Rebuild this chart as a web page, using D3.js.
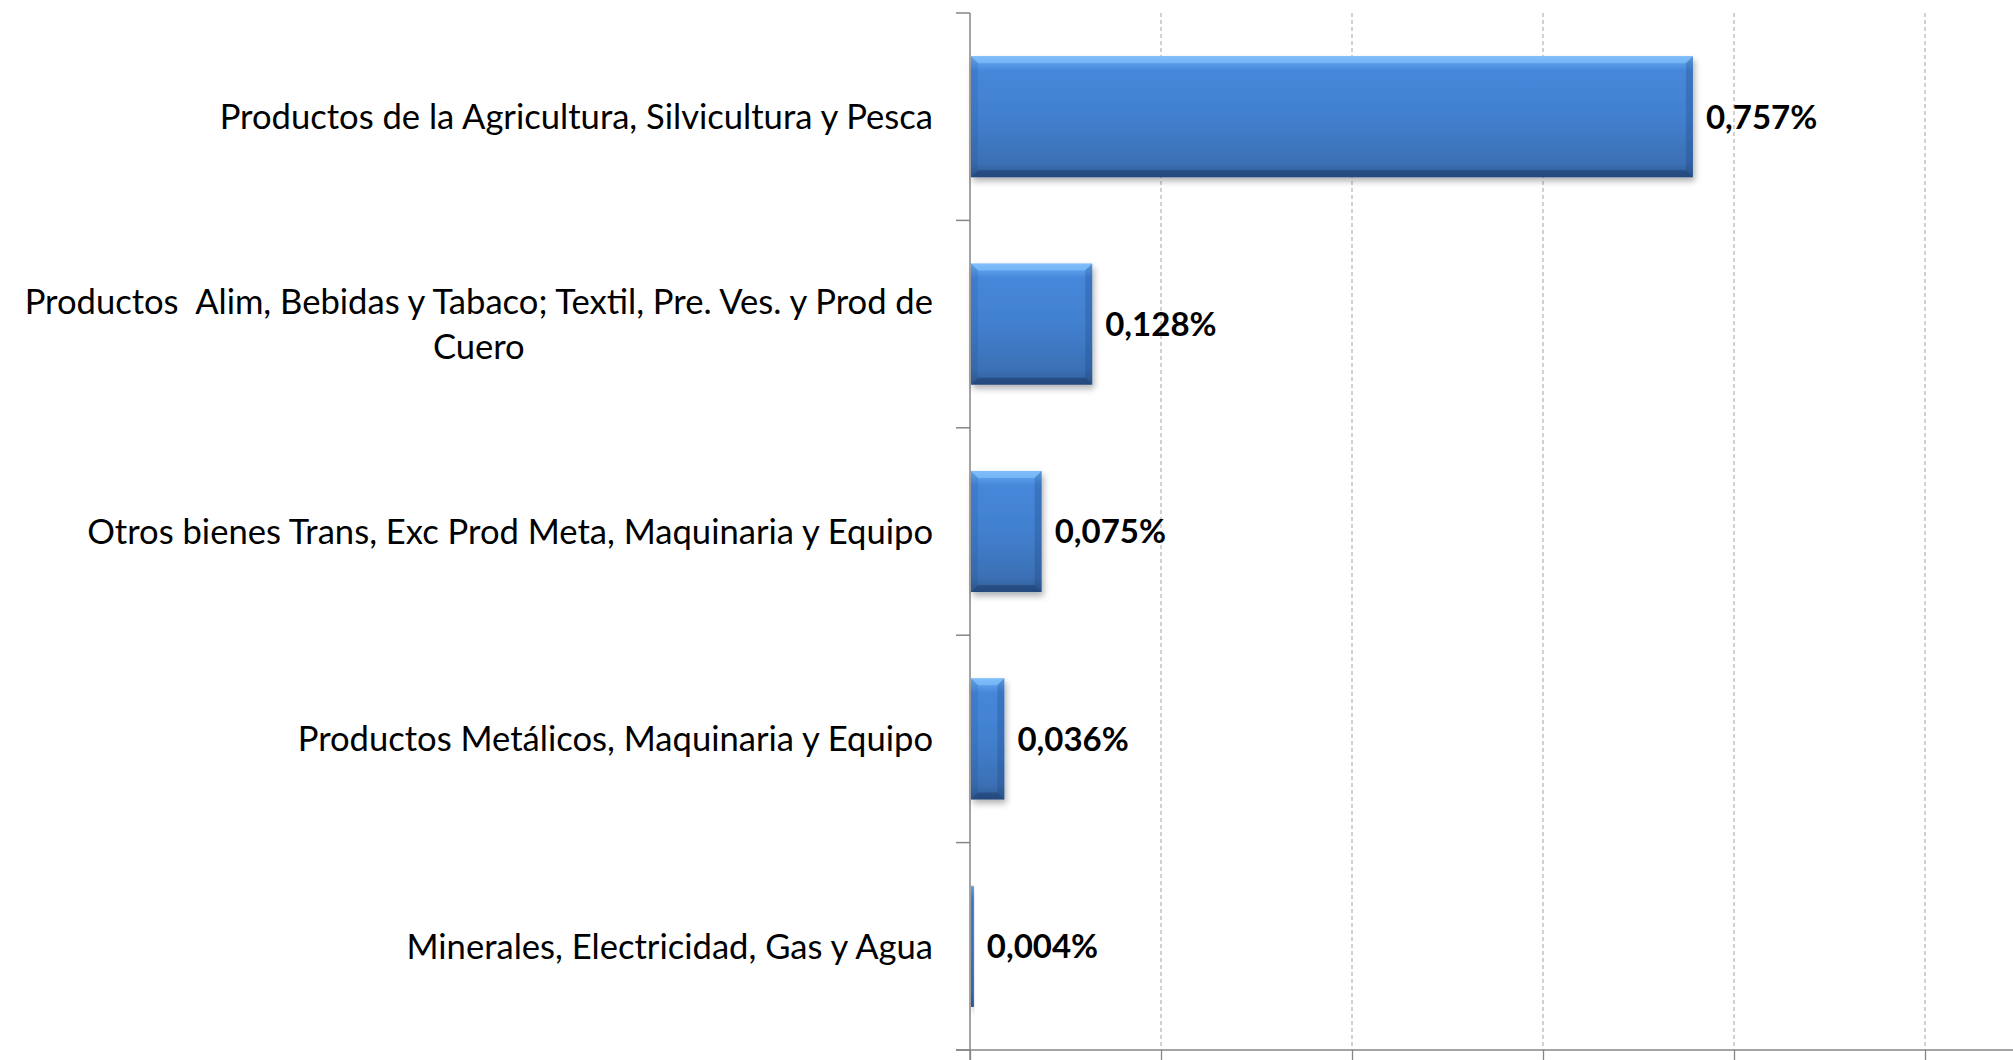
<!DOCTYPE html>
<html>
<head>
<meta charset="utf-8">
<script src="https://cdn.jsdelivr.net/npm/d3@7"></script>
<style>
  body { margin: 0; background: #ffffff; }
  svg { display: block; }
</style>
</head>
<body>
<div id="chart"></div>
<script>
// categories (top to bottom), each entry is the list of lines of the label
var categories = [
  ["Productos de la Agricultura, Silvicultura y Pesca"],
  ["Productos  Alim, Bebidas y Tabaco; Textil, Pre. Ves. y Prod de", "Cuero"],
  ["Otros bienes Trans, Exc Prod Meta, Maquinaria y Equipo"],
  ["Productos Metálicos, Maquinaria y Equipo"],
  ["Minerales, Electricidad, Gas y Agua"]
];
var values = [0.757, 0.128, 0.075, 0.036, 0.004];
var valueLabels = ["0,757%", "0,128%", "0,075%", "0,036%", "0,004%"];
var xTicks = [0, 0.2, 0.4, 0.6, 0.8, 1.0, 1.2];

var width = 2013, height = 1060;
var margin = {top: 13, left: 970, bottom: 10};
var unit = 955; // pixels per 1%
var labelRight = 933;

var svg = d3.select("#chart")
  .append("svg")
    .attr("width", width)
    .attr("height", height);

var defs = svg.append("defs");

// vertical gradient of the bars
var grad = defs.append("linearGradient")
  .attr("id", "barGrad")
  .attr("x1", 0).attr("y1", 0).attr("x2", 0).attr("y2", 1);
[["0%", "#70b2f4"], ["6%", "#589ce8"], ["12%", "#4687da"], ["50%", "#4280cf"],
 ["88%", "#3b70b5"], ["100%", "#2f5b94"]].forEach(function(s) {
  grad.append("stop").attr("offset", s[0]).attr("stop-color", s[1]);
});

var shadow = defs.append("filter")
  .attr("id", "shadow")
  .attr("x", "-20%").attr("y", "-20%").attr("width", "140%").attr("height", "150%");
shadow.append("feDropShadow")
  .attr("dx", 2).attr("dy", 4)
  .attr("stdDeviation", 3)
  .attr("flood-color", "#000")
  .attr("flood-opacity", 0.3);

// scales
var x = d3.scaleLinear()
  .domain([0, 1.2])
  .range([margin.left, margin.left + 1.2 * unit]);

var yBottom = height - margin.bottom;
var y = d3.scaleBand()
  .domain(d3.range(categories.length))
  .range([margin.top, yBottom])
  .paddingInner(0.416)
  .paddingOuter(0.208);

// dashed gridlines
svg.append("g")
  .selectAll("line")
  .data(xTicks.filter(function(d) { return d > 0; }))
  .enter()
  .append("line")
    .attr("x1", function(d) { return x(d); })
    .attr("x2", function(d) { return x(d); })
    .attr("y1", margin.top)
    .attr("y2", yBottom)
    .attr("stroke", "#b3b3b3")
    .attr("stroke-width", 1.2)
    .attr("stroke-dasharray", "4,3");

// bottom axis (its labels are cut off in the picture)
var xAxis = svg.append("g")
  .attr("transform", "translate(0," + yBottom + ")")
  .call(d3.axisBottom(x).tickValues(xTicks).tickSize(12).tickFormat(""));
xAxis.select(".domain").remove();
xAxis.selectAll("line").attr("stroke", "#868686").attr("stroke-width", 1.3);
svg.append("line")
  .attr("x1", margin.left - 14).attr("x2", width)
  .attr("y1", yBottom).attr("y2", yBottom)
  .attr("stroke", "#868686").attr("stroke-width", 1.5);

// left axis with ticks on the band boundaries
var yBounds = d3.range(categories.length + 1).map(function(i) {
  return margin.top + i * y.step();
});
svg.append("line")
  .attr("x1", margin.left).attr("x2", margin.left)
  .attr("y1", margin.top).attr("y2", height)
  .attr("stroke", "#868686").attr("stroke-width", 1.5);
svg.append("g")
  .selectAll("line")
  .data(yBounds)
  .enter()
  .append("line")
    .attr("x1", margin.left - 14)
    .attr("x2", margin.left)
    .attr("y1", function(d) { return d; })
    .attr("y2", function(d) { return d; })
    .attr("stroke", "#868686")
    .attr("stroke-width", 1.5);

// bars
var bars = svg.append("g").selectAll("g.bar")
  .data(values)
  .enter()
  .append("g")
    .attr("class", "bar");

bars.append("rect")
  .attr("x", x(0) + 1)
  .attr("y", function(d, i) { return y(i); })
  .attr("width", function(d) { return x(d) - x(0) - 1; })
  .attr("height", y.bandwidth())
  .attr("fill", "url(#barGrad)")
  .attr("filter", "url(#shadow)");

// bevel edges
function bevel(d, i, side) {
  var x0 = x(0) + 1, x1 = x(d), y0 = y(i), y1 = y(i) + y.bandwidth();
  var b = Math.min(7, (x1 - x0) / 2);
  var p;
  if (side === "top") p = [[x0, y0], [x1, y0], [x1 - b, y0 + b], [x0 + b, y0 + b]];
  if (side === "right") p = [[x1, y0], [x1, y1], [x1 - b, y1 - b], [x1 - b, y0 + b]];
  if (side === "bottom") p = [[x0, y1], [x1, y1], [x1 - b, y1 - b], [x0 + b, y1 - b]];
  if (side === "left") p = [[x0, y0], [x0, y1], [x0 + b, y1 - b], [x0 + b, y0 + b]];
  return "M" + p.join("L") + "Z";
}
var bevelFill = {top: "rgba(140,200,255,0.55)", right: "rgba(20,50,100,0.22)",
                 bottom: "rgba(10,30,70,0.3)", left: "rgba(20,50,100,0.12)"};
["top", "right", "bottom", "left"].forEach(function(side) {
  bars.append("path")
    .attr("d", function(d, i) { return bevel(d, i, side); })
    .attr("fill", bevelFill[side]);
});

// value labels
svg.append("g").selectAll("text")
  .data(values)
  .enter()
  .append("text")
    .attr("x", function(d) { return x(d) + 13; })
    .attr("y", function(d, i) { return y(i) + y.bandwidth() / 2; })
    .attr("dy", "0.36em")
    .attr("font-family", "Lato, 'Open Sans', sans-serif")
    .attr("font-weight", "bold")
    .attr("font-size", "33px")
    .attr("fill", "#000")
    .text(function(d, i) { return valueLabels[i]; });

// category labels: block right-aligned, lines centred inside the block
var lineH = 45;
var catLabels = svg.append("g").selectAll("text")
  .data(categories)
  .enter()
  .append("text")
    .attr("text-anchor", "middle")
    .attr("font-family", "Lato, 'Open Sans', sans-serif")
    .attr("font-size", "34.6px")
    .attr("fill", "#000")
    .style("white-space", "pre");

catLabels.each(function(lines, i) {
  var t = d3.select(this);
  var top = y(i) + y.bandwidth() / 2 - (lines.length - 1) * lineH / 2;
  var spans = lines.map(function(line, k) {
    return t.append("tspan")
      .attr("y", top + k * lineH)
      .attr("dy", "0.36em")
      .text(line);
  });
  var maxW = d3.max(spans, function(s) { return s.node().getComputedTextLength(); });
  spans.forEach(function(s) { s.attr("x", labelRight - maxW / 2); });
});
</script>
</body>
</html>
